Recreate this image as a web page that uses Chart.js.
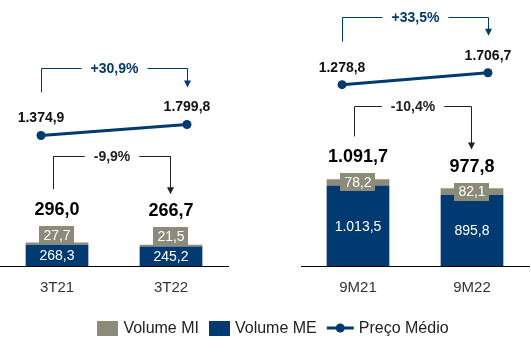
<!DOCTYPE html>
<html>
<head>
<meta charset="utf-8">
<script src="https://cdn.jsdelivr.net/npm/chart.js@4.4.1/dist/chart.umd.min.js"></script>
<style>
  html, body { margin: 0; padding: 0; background: #fff; }
  #wrap { position: relative; width: 531px; height: 353px; overflow: hidden; }
  canvas { position: absolute; top: 0; }
  #left { left: 0; }
  #right { left: 265px; }
</style>
</head>
<body>
<div id="wrap">
  <canvas id="left" width="531" height="353"></canvas>
  <canvas id="right" width="266" height="353"></canvas>
</div>
<script>
"use strict";

// ---- data ----
const LEFT_LABELS = ["3T21", "3T22"];
const LEFT_ME = [268.3, 245.2];
const LEFT_MI = [27.7, 21.5];
const LEFT_TOTAL = [296.0, 266.7];
const LEFT_PRICE = [1374.9, 1799.8];
const LEFT_VOL_CHANGE = "-9,9%";
const LEFT_PRICE_CHANGE = "+30,9%";

const RIGHT_LABELS = ["9M21", "9M22"];
const RIGHT_ME = [1013.5, 895.8];
const RIGHT_MI = [78.2, 82.1];
const RIGHT_TOTAL = [1091.7, 977.8];
const RIGHT_PRICE = [1278.8, 1706.7];
const RIGHT_VOL_CHANGE = "-10,4%";
const RIGHT_PRICE_CHANGE = "+33,5%";

const SERIES_NAMES = ["Volume MI", "Volume ME", "Preço Médio"];

// ---- styles ----
const NAVY = "#003a70";
const GRAY = "#8c8b7a";
const FAMILY = "'Liberation Sans', Arial, sans-serif";
const FONT_VAL = "14px " + FAMILY;
const FONT_TOTAL = "bold 18px " + FAMILY;
const FONT_PRICE = "bold 14px " + FAMILY;
const FONT_PCT = "bold 14px " + FAMILY;
const FONT_LEGEND = "16px " + FAMILY;
const BOX_H = 18;
const PRICE_SPREAD = 0.14; // line points sit a bit outside the bar centres

Chart.defaults.font.family = FAMILY;

// 1091.7 -> "1.091,7"
const fmtBR = (n) => {
  const [a, b] = Number(n).toFixed(1).split(".");
  return a.replace(/\B(?=(\d{3})+(?!\d))/g, ".") + "," + b;
};

function labelBox(ctx, text, x, y, bg) {
  const w = ctx.measureText(text).width + 8;
  ctx.fillStyle = bg;
  ctx.fillRect(Math.round(x - w / 2), Math.round(y - BOX_H / 2), Math.round(w), BOX_H);
  ctx.fillStyle = "#fff";
  ctx.fillText(text, x, y + 1);
}

// bracket from (x0,y0) up to yH, across, then down to an arrow tip at (x1,y1)
function bracket(ctx, x0, y0, x1, y1, yH, text, color) {
  x0 = Math.round(x0) + 0.5;
  x1 = Math.round(x1) + 0.5;
  yH = Math.round(yH) + 0.5;
  ctx.font = FONT_PCT;
  const xm = (x0 + x1) / 2;
  const half = ctx.measureText(text).width / 2 + 9;
  ctx.strokeStyle = color;
  ctx.lineWidth = 1;
  ctx.beginPath();
  ctx.moveTo(x0, y0);
  ctx.lineTo(x0, yH);
  ctx.lineTo(xm - half, yH);
  ctx.moveTo(xm + half, yH);
  ctx.lineTo(x1, yH);
  ctx.lineTo(x1, y1 - 6);
  ctx.stroke();
  ctx.fillStyle = color;
  ctx.beginPath();
  ctx.moveTo(x1 - 3.5, y1 - 7);
  ctx.lineTo(x1 + 3.5, y1 - 7);
  ctx.lineTo(x1, y1);
  ctx.closePath();
  ctx.fill();
  ctx.fillText(text, xm, yH + 1);
}

const annotate = {
  id: "annotate",
  afterDatasetsDraw(chart, args, o) {
    const p = o.panel;
    if (!p) return;
    const ctx = chart.ctx;
    const me = chart.getDatasetMeta(0).data;
    const mi = chart.getDatasetMeta(1).data;
    const pts = chart.getDatasetMeta(2).data;
    ctx.save();
    ctx.textAlign = "center";
    ctx.textBaseline = "middle";

    // bar values + totals
    const totalY = [];
    me.forEach((bar, i) => {
      ctx.font = FONT_VAL;
      const meY = (bar.y + bar.base) / 2;
      labelBox(ctx, fmtBR(p.me[i]), bar.x, meY, NAVY);
      const miY = Math.min((mi[i].y + mi[i].base) / 2, meY - 20);
      labelBox(ctx, fmtBR(p.mi[i]), bar.x, miY, GRAY);
      const ty = miY - BOX_H / 2 - 16;
      totalY.push(ty);
      ctx.font = FONT_TOTAL;
      ctx.fillStyle = "#000";
      ctx.fillText(fmtBR(p.total[i]), bar.x, ty);
    });

    // price labels
    ctx.font = FONT_PRICE;
    ctx.fillStyle = "#111";
    pts.forEach((pt, i) => ctx.fillText(fmtBR(p.price[i]), pt.x, pt.y - 17));

    // price change bracket
    const yTop = Math.min(pts[0].y, pts[1].y) - 56;
    bracket(ctx, pts[0].x, pts[0].y - 43, pts[1].x, pts[1].y - 37, yTop, p.priceChange, NAVY);

    // volume change bracket
    bracket(ctx, me[0].x - 4, totalY[0] - 21, me[1].x - 1, totalY[1] - 17,
      pts[0].y + 21, p.volChange, "#222");
    ctx.restore();
  },
};

const legendPlugin = {
  id: "bottomLegend",
  afterDraw(chart, args, o) {
    if (!o.show) return;
    const ctx = chart.ctx;
    ctx.save();
    ctx.font = FONT_LEGEND;
    ctx.textBaseline = "middle";
    ctx.textAlign = "left";
    const y = 328;
    const items = [
      { kind: "box", color: GRAY, text: SERIES_NAMES[0] },
      { kind: "box", color: NAVY, text: SERIES_NAMES[1] },
      { kind: "line", color: NAVY, text: SERIES_NAMES[2] },
    ];
    const widths = items.map((it) => (it.kind === "box" ? 21 : 27) + 5 + ctx.measureText(it.text).width);
    const total = widths.reduce((a, b) => a + b, 0) + 10 * (items.length - 1);
    let x = 273 - total / 2;
    items.forEach((it) => {
      if (it.kind === "box") {
        ctx.fillStyle = it.color;
        ctx.fillRect(Math.round(x), y - 7, 21, 15);
        x += 21 + 5;
      } else {
        ctx.strokeStyle = it.color;
        ctx.lineWidth = 3;
        ctx.beginPath();
        ctx.moveTo(x, y);
        ctx.lineTo(x + 27, y);
        ctx.stroke();
        ctx.fillStyle = it.color;
        ctx.beginPath();
        ctx.arc(x + 13.5, y, 4.5, 0, Math.PI * 2);
        ctx.fill();
        x += 27 + 5;
      }
      ctx.fillStyle = "#222";
      ctx.fillText(it.text, x, y + 1);
      x += ctx.measureText(it.text).width + 10;
    });
    ctx.restore();
  },
};

function makeChart(canvasId, panel, padding, priceMin, priceMax, showLegend) {
  const barStyle = {
    stack: "vol",
    grouped: false,
    barPercentage: 0.55,
    categoryPercentage: 1,
    order: 2,
  };
  return new Chart(document.getElementById(canvasId), {
    type: "bar",
    data: {
      labels: panel.labels,
      datasets: [
        { label: SERIES_NAMES[1], data: panel.me, backgroundColor: NAVY, ...barStyle },
        { label: SERIES_NAMES[0], data: panel.mi, backgroundColor: GRAY, ...barStyle },
        {
          type: "line",
          label: SERIES_NAMES[2],
          data: panel.price.map((v, i) => ({ x: i + (i ? PRICE_SPREAD : -PRICE_SPREAD), y: v })),
          xAxisID: "xl",
          yAxisID: "y2",
          borderColor: NAVY,
          backgroundColor: NAVY,
          borderWidth: 3,
          pointRadius: 4.5,
          pointBackgroundColor: NAVY,
          pointBorderWidth: 0,
          order: 1,
        },
      ],
    },
    options: {
      responsive: false,
      animation: false,
      devicePixelRatio: 1,
      layout: { padding, autoPadding: false },
      plugins: {
        legend: { display: false },
        tooltip: { enabled: false },
        annotate: { panel },
        bottomLegend: { show: showLegend },
      },
      scales: {
        x: {
          type: "category",
          stacked: true,
          offset: true,
          grid: { display: false, drawTicks: false },
          border: { display: true, color: "#000", width: 1 },
          ticks: { color: "#333", font: { size: 15 }, padding: 13 },
        },
        y: { stacked: true, display: false, min: 0, max: 3350 },
        xl: { type: "linear", display: false, offset: false, min: -0.5, max: 1.5 },
        y2: { type: "linear", display: false, min: priceMin, max: priceMax },
      },
    },
    plugins: [annotate, legendPlugin],
  });
}

makeChart("left", {
  labels: LEFT_LABELS, me: LEFT_ME, mi: LEFT_MI, total: LEFT_TOTAL, price: LEFT_PRICE,
  volChange: LEFT_VOL_CHANGE, priceChange: LEFT_PRICE_CHANGE,
}, { left: 0, right: 303, top: 0, bottom: 43 }, -3665, 6604, true);

makeChart("right", {
  labels: RIGHT_LABELS, me: RIGHT_ME, mi: RIGHT_MI, total: RIGHT_TOTAL, price: RIGHT_PRICE,
  volChange: RIGHT_VOL_CHANGE, priceChange: RIGHT_PRICE_CHANGE,
}, { left: 36, right: 2, top: 0, bottom: 43 }, -5221, 4314, false);
</script>
</body>
</html>
